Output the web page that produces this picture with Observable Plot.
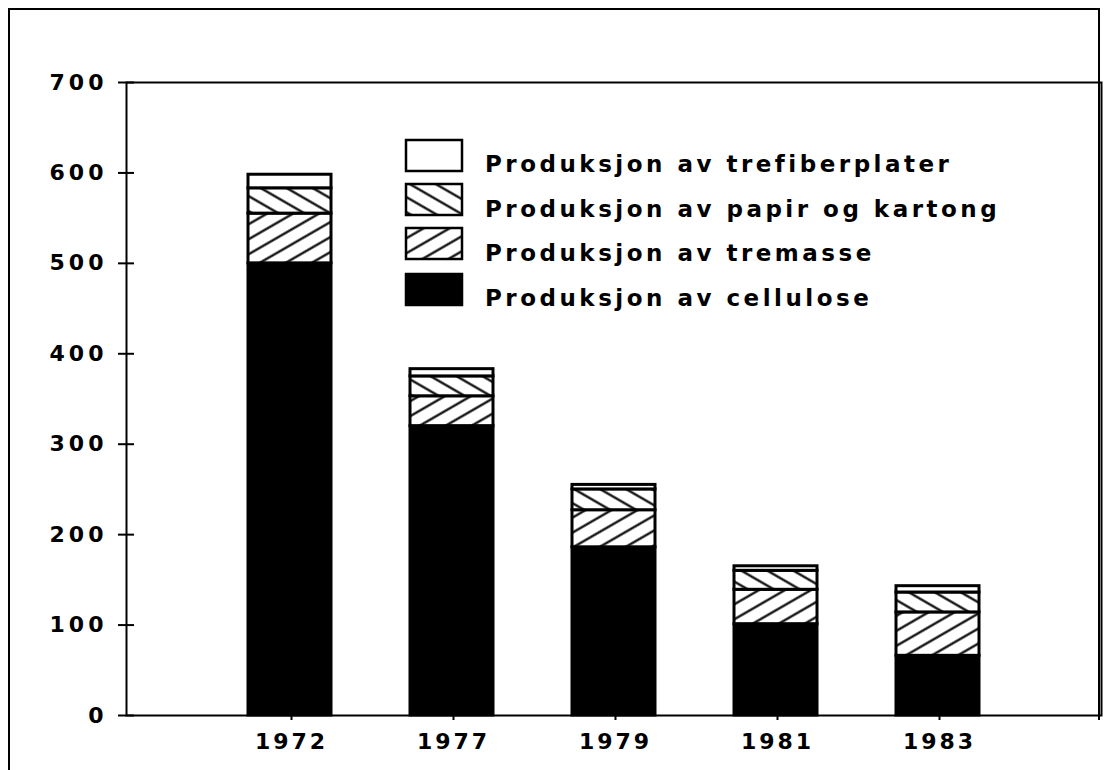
<!DOCTYPE html>
<html>
<head>
<meta charset="utf-8">
<script src="https://cdn.jsdelivr.net/npm/d3@7"></script>
<script src="https://cdn.jsdelivr.net/npm/@observablehq/plot@0.6"></script>
<style>
  html, body { margin: 0; padding: 0; background: white; overflow: hidden; }
  #wrap { position: relative; width: 1116px; height: 770px; font-family: "DejaVu Sans", sans-serif; }
  #frameTop { position: absolute; left: 8px; top: 8px; width: 1092px; height: 712px; border-top: 2px solid black; border-right: 2px solid black; box-sizing: border-box; }
  #frameLeft { position: absolute; left: 8px; top: 8px; width: 2px; height: 780px; background: black; }
  #chart { position: absolute; left: 0; top: 0; }
  #legend { position: absolute; left: 0; top: 0; pointer-events: none; }
  svg g[aria-label="y-axis tick label"] text { letter-spacing: 4px; font-size: 22px; }
  svg g[aria-label="x-axis tick label"] text { letter-spacing: 3px; font-size: 22px; }
</style>
</head>
<body>
<svg width="0" height="0" style="position:absolute">
  <defs>
    <pattern id="hatchF" patternUnits="userSpaceOnUse" width="20" height="13" patternTransform="rotate(-30)">
      <rect width="20" height="13" fill="white"/>
      <line x1="0" y1="6.5" x2="20" y2="6.5" stroke="black" stroke-width="2.2"/>
    </pattern>
    <pattern id="hatchB" patternUnits="userSpaceOnUse" width="20" height="13" patternTransform="rotate(30)">
      <rect width="20" height="13" fill="white"/>
      <line x1="0" y1="6.5" x2="20" y2="6.5" stroke="black" stroke-width="2.2"/>
    </pattern>
  </defs>
</svg>
<div id="wrap">
  <div id="frameLeft"></div>
  <div id="frameTop"></div>
  <div id="chart"></div>
  <svg id="legend" width="1116" height="770"></svg>
</div>
<script>
const years = ["1972", "1977", "1979", "1981", "1983"];
const series = [
  "Produksjon av cellulose",
  "Produksjon av tremasse",
  "Produksjon av papir og kartong",
  "Produksjon av trefiberplater"
];
const cellulose = [500, 320, 186, 101, 66];
const tremasse  = [55, 33, 41, 38, 48];
const papir     = [28, 22, 23, 21, 22];
const trefiber  = [15, 8, 5, 5, 7];
const yTicks = [0, 100, 200, 300, 400, 500, 600, 700];
const fills = ["black", "url(#hatchF)", "url(#hatchB)", "white"];

const seriesValues = [cellulose, tremasse, papir, trefiber];
const data = years.flatMap((yr, i) =>
  series.map((s, j) => ({year: yr, series: s, value: seriesValues[j][i]}))
);

const chart = Plot.plot({
  width: 1116,
  height: 770,
  marginLeft: 126,
  marginRight: 15,
  marginTop: 82,
  marginBottom: 55,
  style: {fontFamily: "DejaVu Sans", background: "transparent", color: "black"},
  x: {domain: years, paddingInner: 0.488, paddingOuter: 0.749, label: null},
  y: {domain: [0, 700], label: null},
  color: {domain: series, range: fills},
  marks: [
    Plot.barY(data, {x: "year", y: "value", fill: "series", stroke: "black", strokeWidth: 3}),
    Plot.frame({stroke: "black", strokeWidth: 2}),
    Plot.tickY(yTicks, {y: d => d, stroke: "black", strokeWidth: 2, insetLeft: -8, insetRight: 967}),
    Plot.axisY({ticks: yTicks, tickSize: 0, tickPadding: 19, fontSize: 22, fontWeight: "bold", label: null}),
    Plot.axisX({tickSize: 5, tickPadding: 13, fontSize: 22, fontWeight: "bold", strokeWidth: 2, dx: 1.5, label: null})
  ]
});
document.getElementById("chart").appendChild(chart);

// Legend (top entry first)
const legend = d3.select("#legend");
const legendRows = [
  {label: series[3], fill: fills[3], top: 140, base: 172},
  {label: series[2], fill: fills[2], top: 184, base: 217},
  {label: series[1], fill: fills[1], top: 228, base: 261},
  {label: series[0], fill: fills[0], top: 274, base: 306}
];
legendRows.forEach(r => {
  legend.append("rect")
    .attr("x", 406).attr("y", r.top).attr("width", 56).attr("height", 31)
    .attr("fill", r.fill).attr("stroke", "black").attr("stroke-width", 2.5);
  legend.append("text")
    .attr("x", 485).attr("y", r.base)
    .attr("font-family", "DejaVu Sans").attr("font-weight", "bold")
    .attr("font-size", 23).attr("letter-spacing", "3.5px")
    .attr("fill", "black")
    .text(r.label);
});
</script>
</body>
</html>
